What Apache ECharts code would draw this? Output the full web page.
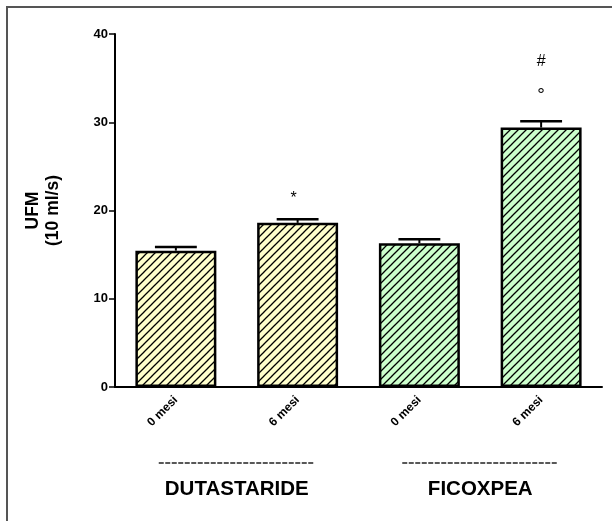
<!DOCTYPE html>
<html><head><meta charset="utf-8">
<script src="https://cdn.jsdelivr.net/npm/echarts@6/dist/echarts.min.js"></script>
<style>html,body{margin:0;padding:0;background:#fff}#c{width:612px;height:521px}</style>
</head><body><div id="c"></div>
<script>
const categories = ['0 mesi', '6 mesi', '0 mesi', '6 mesi'];
const means = [15.45, 18.6, 16.3, 29.4];
const errors = [0.4, 0.4, 0.45, 0.7];
const groups = ['DUTASTARIDE', 'FICOXPEA'];
const groupOf = [0, 0, 1, 1];
const fills = ['#ffffcc', '#ccffcc'];
const markCats = [1, 3, 3];
const markValues = [21.4, 33.0, 36.9];
const markTexts = ['*', '°', '#'];
const yMin = 0, yMax = 40, yStep = 10;

const FONT = 'Liberation Sans, Arial, sans-serif';

function hatch(bg) {
  const c = document.createElement('canvas');
  c.width = 8; c.height = 8;
  const g = c.getContext('2d');
  g.fillStyle = bg; g.fillRect(0, 0, 8, 8);
  g.strokeStyle = '#000'; g.lineWidth = 1.3;
  g.beginPath();
  g.moveTo(-2, 10); g.lineTo(10, -2);
  g.moveTo(-2, 2); g.lineTo(2, -2);
  g.moveTo(6, 10); g.lineTo(10, 6);
  g.stroke();
  return c;
}

const chart = echarts.init(document.getElementById('c'), null, {renderer: 'canvas'});
const option = {
  animation: false,
  backgroundColor: '#fff',
  grid: {left: 115, right: 10, top: 34, bottom: 134, containLabel: false},
  xAxis: {
    type: 'category', data: categories,
    axisLine: {lineStyle: {color: '#000', width: 2}},
    axisTick: {alignWithLabel: true, length: 6, lineStyle: {color: '#000', width: 1.5}},
    axisLabel: {rotate: 45, margin: 11, color: '#000', fontWeight: 'bold', fontSize: 12, fontFamily: FONT},
    splitLine: {show: false}
  },
  yAxis: {
    type: 'value', min: yMin, max: yMax, interval: yStep,
    name: 'UFM\n(10 ml/s)', nameLocation: 'middle', nameGap: 52, nameRotate: 90,
    nameTextStyle: {color: '#000', fontWeight: 'bold', fontSize: 17.5, fontFamily: FONT, lineHeight: 20},
    axisLine: {show: true, lineStyle: {color: '#000', width: 2}},
    axisTick: {show: true, length: 6, lineStyle: {color: '#000', width: 1.5}},
    axisLabel: {margin: 7, color: '#000', fontWeight: 'bold', fontSize: 13, fontFamily: FONT},
    splitLine: {show: false}
  },
  series: [
    {
      type: 'bar', barWidth: '66.5%',
      data: means.map((v, i) => ({
        value: v,
        itemStyle: {color: {image: hatch(fills[groupOf[i]]), repeat: 'repeat'}, borderColor: '#000', borderWidth: 2.5}
      })),
      z: 2
    },
    {
      type: 'custom', z: 3,
      data: means.map((v, i) => [i, v, v + errors[i]]),
      renderItem: function (params, api) {
        const i = api.value(0);
        const p0 = api.coord([i, api.value(1)]);
        const p1 = api.coord([i, api.value(2)]);
        const hw = api.size([1, 0])[0] * 0.172;
        return {
          type: 'group', children: [
            {type: 'line', shape: {x1: p0[0], y1: p0[1], x2: p1[0], y2: p1[1]}, style: {stroke: '#000', lineWidth: 2}},
            {type: 'line', shape: {x1: p1[0] - hw, y1: p1[1], x2: p1[0] + hw, y2: p1[1]}, style: {stroke: '#000', lineWidth: 2.5}}
          ]
        };
      }
    },
    {
      type: 'custom', z: 4,
      data: markCats.map((c, i) => [c, markValues[i], markTexts[i]]),
      renderItem: function (params, api) {
        const p = api.coord([api.value(0), api.value(1)]);
        const t = markTexts[params.dataIndex];
        return {type: 'text', x: p[0] - (t === '*' ? 4 : 0), y: p[1], style: {text: t, fill: '#000', fontSize: t === '°' ? 19 : 16, fontFamily: FONT, align: 'center', verticalAlign: 'middle'}};
      }
    }
  ]
};
chart.setOption(option);

const cx = categories.map((_, i) => chart.convertToPixel({xAxisIndex: 0}, i));
const graphics = [{type: 'rect', shape: {x: 7, y: 7, width: 700, height: 700}, style: {fill: 'none', stroke: '#555', lineWidth: 2}, z: 10}];
groups.forEach((g, gi) => {
  const xs = cx.filter((_, i) => groupOf[i] === gi);
  const mid = (Math.min(...xs) + Math.max(...xs)) / 2;
  graphics.push({type: 'line', shape: {x1: mid - 78, y1: 463, x2: mid + 78, y2: 463}, style: {stroke: '#222', lineWidth: 1.6, lineDash: [5, 1.5]}});
  graphics.push({type: 'text', x: mid, y: 489, style: {text: g, fill: '#000', fontSize: 20.5, fontWeight: 'bold', fontFamily: FONT, align: 'center', verticalAlign: 'middle'}});
});
chart.setOption({graphic: graphics});
</script>
</body></html>
